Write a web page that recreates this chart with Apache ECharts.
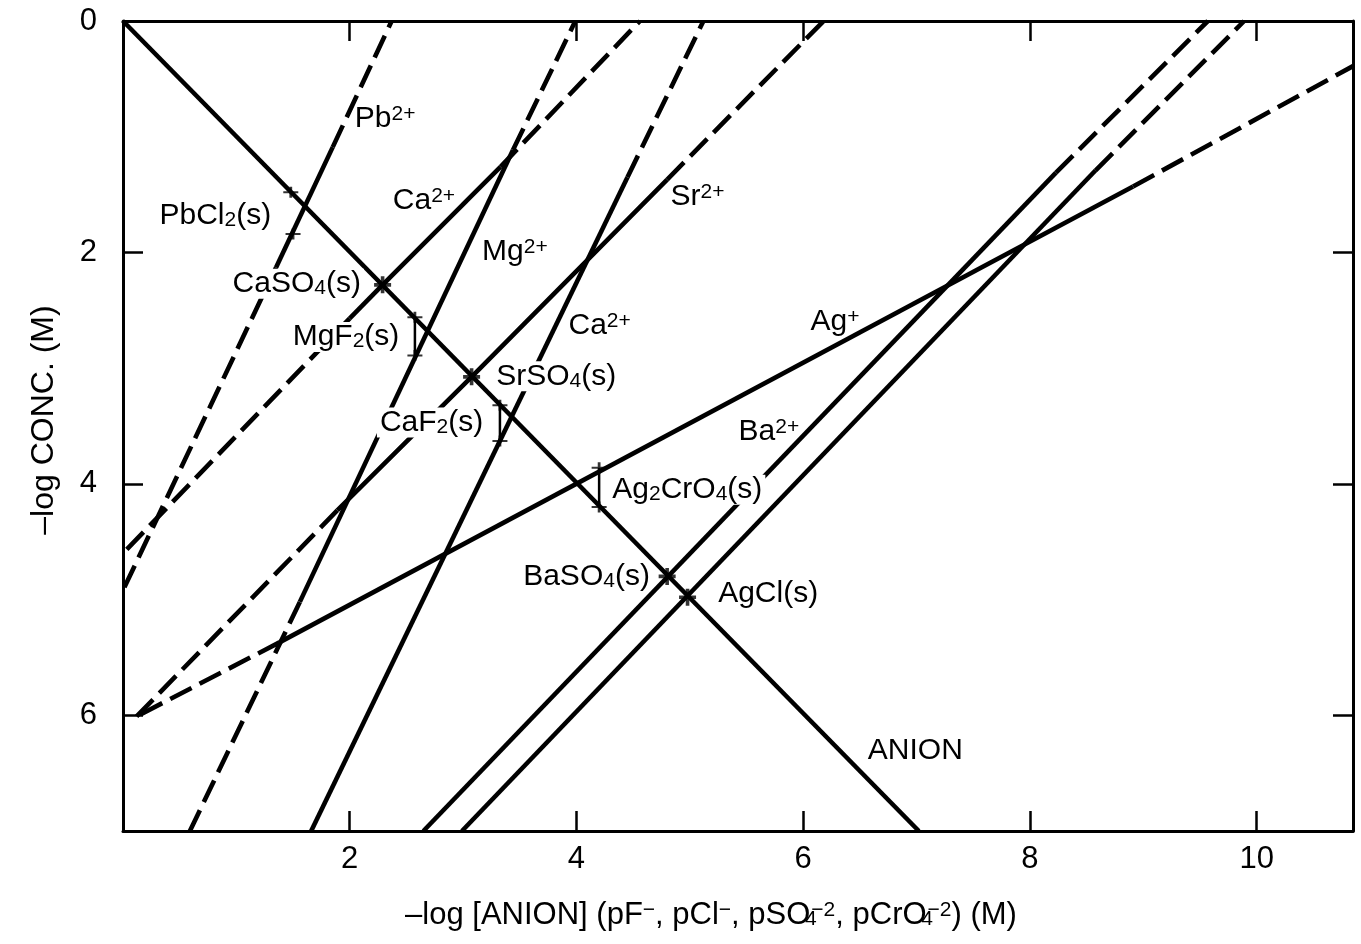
<!DOCTYPE html>
<html>
<head>
<meta charset="utf-8">
<title>Solubility diagram</title>
<script src="https://cdn.jsdelivr.net/npm/echarts@6/dist/echarts.min.js"></script>
<style>
  html, body { margin: 0; padding: 0; background: #fff; }
  #chart { width: 1361px; height: 944px; }
</style>
</head>
<body>
<div id="chart"></div>
<script>
// ---- axis ticks ----
const xTicks = [2, 4, 6, 8, 10];
const yTicks = [0, 2, 4, 6];

// ---- lines: [pAnion, -log conc] vertices ----
const anionLine = [[0, 0], [7.02, 7]];

const pbSolid = [[1.85, 1.09], [1.35, 2.13]];
const pbDashUp = [[1.85, 1.09], [2.37, 0]];
const pbDashDown = [[1.35, 2.13], [0, 4.92]];

const caSo4Solid = [[2.29, 2.28], [3.33, 1.26]];
const caSo4SolidLow = [[2.29, 2.28], [2.0, 2.57]];
const caSo4DashUp = [[3.33, 1.26], [4.56, 0]];
const caSo4DashDown = [[2.0, 2.57], [0, 4.6]];

const srSolid = [[1.89, 4.23], [3.075, 3.075], [4.8, 1.37]];
const srDashUp = [[4.8, 1.37], [6.18, 0]];
const srDashDown = [[1.89, 4.23], [0.12, 6.01]];

const agSolid = [[1.38, 5.37], [8.91, 1.43]];
const agDashLeft = [[1.38, 5.37], [0.12, 6.01]];
const agDashRight = [[8.91, 1.43], [10.85, 0.39]];

const mgSolid = [[1.56, 5.02], [3.44, 1.115]];
const mgDashDown = [[1.56, 5.02], [0.59, 7]];
const mgDashUp = [[3.44, 1.115], [3.99, 0]];

const caF2Solid = [[1.66, 7], [4.45, 1.35]];
const caF2Dash = [[4.45, 1.35], [5.12, 0]];

const baSolid = [[2.65, 7], [8.23, 1.31]];
const baDash = [[8.23, 1.31], [9.57, 0]];

const agClSolid = [[2.99, 7], [8.58, 1.29]];
const agClDash = [[8.58, 1.29], [9.89, 0]];

// ---- solid-phase points and brackets ----
const saltPoints = [[2.29, 2.28], [3.075, 3.075], [4.80, 4.80], [4.98, 4.98]];
const pbCl2Marks = [[1.48, 1.48], [1.50, 1.84]];
const mgF2Bracket = [[2.575, 2.56], [2.575, 2.89]];
const caF2Bracket = [[3.325, 3.32], [3.325, 3.63]];
const ag2CrO4Bracket = [[4.2, 3.86], [4.2, 4.2]];

// ---- text labels ----
const labelTexts = [
  'Pb{sup|2+}', 'PbCl{sub|2}(s)', 'Ca{sup|2+}', 'CaSO{sub|4}(s)', 'MgF{sub|2}(s)',
  'Mg{sup|2+}', 'Sr{sup|2+}', 'Ca{sup|2+}', 'SrSO{sub|4}(s)', 'CaF{sub|2}(s)',
  'Ag{sub|2}CrO{sub|4}(s)', 'Ba{sup|2+}', 'Ag{sup|+}', 'BaSO{sub|4}(s)', 'AgCl(s)', 'ANION'
];
const labelAnchors = [
  [2.045, 0.847], [0.322, 1.68], [2.38, 1.556], [0.94, 2.27], [1.47, 2.73],
  [3.167, 1.99], [4.83, 1.52], [3.93, 2.63], [3.265, 3.07], [2.24, 3.47],
  [4.29, 4.05], [5.43, 3.55], [6.065, 2.60], [3.53, 4.8], [5.25, 4.95], [6.57, 6.31]
];
const maskedLabels = [3, 4, 8, 9, 10];

const FONT = '"Liberation Sans", Arial, Helvetica, sans-serif';
const LW = 4.6;
const DASH = [24, 9];

const richStyles = {
  sup: { fontFamily: FONT, fontSize: 21, lineHeight: 14, verticalAlign: 'top', color: '#000' },
  sub: { fontFamily: FONT, fontSize: 21, lineHeight: 12, verticalAlign: 'bottom', color: '#000' }
};

function lineSeries(data, dashed, width) {
  return {
    type: 'line', data: data, symbol: 'none', silent: true, z: 2,
    lineStyle: { color: '#000', width: width || LW, type: dashed ? DASH : 'solid', cap: 'butt' },
    clip: true
  };
}

const series = [
  lineSeries(anionLine, false),
  lineSeries(pbSolid, false), lineSeries(pbDashUp, true), lineSeries(pbDashDown, true),
  lineSeries(caSo4Solid, false), lineSeries(caSo4SolidLow, false),
  lineSeries(caSo4DashUp, true), lineSeries(caSo4DashDown, true),
  lineSeries(srSolid, false), lineSeries(srDashUp, true), lineSeries(srDashDown, true),
  lineSeries(agSolid, false), lineSeries(agDashLeft, true), lineSeries(agDashRight, true),
  lineSeries(mgSolid, false), lineSeries(mgDashDown, true), lineSeries(mgDashUp, true),
  lineSeries(caF2Solid, false), lineSeries(caF2Dash, true),
  lineSeries(baSolid, false), lineSeries(baDash, true),
  lineSeries(agClSolid, false), lineSeries(agClDash, true),
  lineSeries(mgF2Bracket, false, 2.5),
  lineSeries(caF2Bracket, false, 2.5),
  lineSeries(ag2CrO4Bracket, false, 2.5),
  {
    type: 'scatter', silent: true, z: 4,
    data: saltPoints,
    symbol: 'path://M-1.7,-8L1.7,-8L1.7,-1.7L8,-1.7L8,1.7L1.7,1.7L1.7,8L-1.7,8L-1.7,1.7L-8,1.7L-8,-1.7L-1.7,-1.7Z',
    symbolSize: 17,
    itemStyle: { color: '#000' }
  },
  {
    type: 'scatter', silent: true, z: 4,
    data: pbCl2Marks.concat(mgF2Bracket, caF2Bracket, ag2CrO4Bracket),
    symbol: 'path://M-1.3,-7L1.3,-7L1.3,-1.3L7,-1.3L7,1.3L1.3,1.3L1.3,7L-1.3,7L-1.3,1.3L-7,1.3L-7,-1.3L-1.3,-1.3Z',
    symbolSize: [15, 11],
    itemStyle: { color: '#000' }
  },
  {
    type: 'scatter', silent: true, z: 10,
    symbol: 'circle', symbolSize: 0,
    itemStyle: { color: '#000', opacity: 1 },
    data: labelTexts.map((t, i) => {
      const item = { value: labelAnchors[i], name: t };
      if (maskedLabels.indexOf(i) >= 0) {
        item.label = { backgroundColor: '#ffffff', padding: [0, 3, 0, 3] };
      }
      return item;
    }),
    label: {
      show: true, position: 'right', distance: 0, opacity: 1,
      formatter: p => p.name,
      fontFamily: FONT, fontSize: 30, lineHeight: 30, color: '#000',
      textBorderWidth: 0,
      rich: richStyles
    }
  }
];

const axisLine = { show: true, onZero: false, lineStyle: { color: '#000', width: 3 } };
const axisTick = { show: true, inside: true, length: 20, lineStyle: { color: '#000', width: 2.5 } };

const chart = echarts.init(document.getElementById('chart'), null, { renderer: 'canvas' });
chart.setOption({
  animation: false,
  backgroundColor: '#fff',
  grid: { left: 123, right: 8, top: 21, bottom: 113, containLabel: false, outerBoundsMode: 'none' },
  xAxis: [
    {
      type: 'value', position: 'bottom', min: 0, max: 10.85, interval: 2,
      axisLine: axisLine, axisTick: axisTick, splitLine: { show: false },
      axisLabel: {
        margin: 13, fontFamily: FONT, fontSize: 31, color: '#000',
        formatter: v => (xTicks.indexOf(v) >= 0 ? String(v) : '')
      },
      name: '–log [ANION] (pF{sup|−}, pCl{sup|−}, pSO{sub|4}{sup|−2}, pCrO{sub|4}{sup|−2}) (M)',
      nameLocation: 'middle', nameGap: 69,
      nameTextStyle: {
        fontFamily: FONT, fontSize: 31, lineHeight: 30, color: '#000',
        padding: [0, 54, 0, 0],
        rich: {
          sup: { fontFamily: FONT, fontSize: 21, lineHeight: 5, verticalAlign: 'top', color: '#000' },
          sub: { fontFamily: FONT, fontSize: 21, lineHeight: 4, verticalAlign: 'bottom', width: 1, color: '#000' }
        }
      }
    },
    {
      type: 'value', position: 'top', min: 0, max: 10.85, interval: 2,
      axisLine: axisLine, axisTick: axisTick, splitLine: { show: false },
      axisLabel: { show: false }
    }
  ],
  yAxis: [
    {
      type: 'value', position: 'left', inverse: true, min: 0, max: 7, interval: 2,
      axisLine: axisLine, axisTick: axisTick, splitLine: { show: false },
      axisLabel: {
        margin: 26, fontFamily: FONT, fontSize: 31, color: '#000',
        formatter: v => (yTicks.indexOf(v) >= 0 ? String(v) : '')
      },
      name: '–log CONC. (M)', nameLocation: 'middle', nameGap: 64, nameRotate: 90,
      nameTextStyle: { fontFamily: FONT, fontSize: 32, lineHeight: 30, color: '#000', padding: [0, 0, 0, 12] }
    },
    {
      type: 'value', position: 'right', inverse: true, min: 0, max: 7, interval: 2,
      axisLine: axisLine, axisTick: axisTick, splitLine: { show: false },
      axisLabel: { show: false }
    }
  ],
  series: series
});
</script>
</body>
</html>
